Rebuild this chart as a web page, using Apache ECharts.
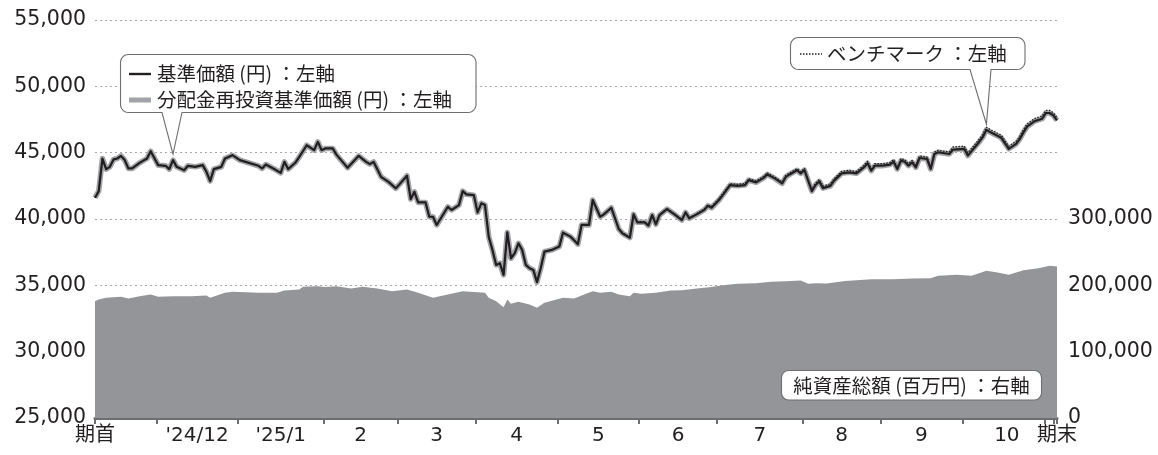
<!DOCTYPE html>
<html><head><meta charset="utf-8">
<script src="https://cdn.jsdelivr.net/npm/echarts@6/dist/echarts.min.js"></script>
<style>html,body{margin:0;padding:0;background:#fff}#main{width:1158px;height:455px}</style>
</head><body><div id="main"></div>
<script>
// x = trading-day index from 期首 (2024/11/07 = 0) to 期末 (= 259)
const tickDays = [0, 16.5, 38.5, 61.5, 81.5, 102.5, 124.5, 146.5, 167.5, 190.5, 211.5, 233.5, 255.6, 258, 259];
const labelDays = [0, 27.5, 50, 71.5, 92, 113.5, 135.5, 157, 179, 201, 222.5, 245.5, 259];
const labelTexts = ['期首', "'24/12", "'25/1", '2', '3', '4', '5', '6', '7', '8', '9', '10', '期末'];

// 基準価額 (円) [day, value]
const nav = [
[0,41600],[1,42100],[2,44560],[3,43760],[4,43930],[5,44490],[6,44560],[7,44760],[8,44440],[9,43810],
[10,43810],[12,44230],[14,44560],[15,45110],[17,44060],[19,44010],[20,43760],[21,44440],[22,43930],[24,43680],
[25,44010],[27,43930],[29,44060],[30,43560],[31,42860],[32,43760],[34,43930],[35,44560],[37,44810],[39,44440],
[44,44010],[45,43810],[46,44110],[48,43810],[50,43480],[51,44310],[52,43760],[54,44260],[55,44680],[57,45560],
[59,45190],[60,45810],[61,45190],[62,45320],[64,45320],[65,44850],[67,44190],[68,43860],[71,44760],[73,44310],
[74,44140],[75,44310],[77,43180],[79,42800],[81,42310],[84,43260],[85,41500],[86,42050],[87,41250],[89,41250],
[90,40170],[91,40170],[92,39550],[95,40920],[96,40680],[98,41050],[99,42100],[100,41860],[102,41800],[103,40500],
[104,41180],[105,41050],[106,38670],[107,37670],[108,36540],[109,36670],[110,35790],[111,38990],[112,37040],[113,37420],
[114,38170],[115,37670],[116,36540],[117,36290],[118,36160],[119,35240],[120,36290],[121,37540],[123,37670],[125,37920],
[126,38970],[128,38670],[129,38400],[130,38100],[131,39550],[133,39550],[134,41430],[136,40170],[137,40350],[139,40850],
[141,39250],[142,38920],[144,38590],[145,40350],[146,39750],[148,39750],[149,39500],[150,40300],[151,39600],[152,40300],
[154,40750],[156,40350],[158,39920],[159,40500],[160,40050],[162,40350],[164,40680],[165,41000],[166,40850],[168,41430],
[169,41800],[171,42560],[173,42500],[175,42560],[176,42930],[178,42760],[180,43100],[181,43360],[183,43060],[185,42680],
[186,43180],[187,43360],[189,43680],[190,43440],[191,43680],[193,42100],[194,42560],[195,42830],[196,42330],[198,42500],
[199,42890],[201,43440],[203,43520],[205,43440],[207,43890],[208,44200],[209,43640],[210,44020],[212,44020],[214,44100],
[215,44320],[216,43770],[217,44400],[218,44320],[219,44020],[220,44270],[221,43890],[222,44600],[224,44530],[225,43770],
[226,44900],[227,45030],[230,44900],[231,45230],[234,45290],[235,44780],[238,45790],[239,46170],[240,46720],[241,46550],
[244,46120],[246,45290],[248,45660],[249,46040],[250,46550],[251,46980],[253,47380],[255,47560],[256,47990],[257,47990],
[258,47810],[259,47430]
];

// 分配金再投資基準価額 (円): no distributions in the period, identical to 基準価額
const reinvest = nav;

// ベンチマーク [day, value]
const bench = [
[0,41600],[1,42100],[2,44560],[3,43760],[4,43930],[5,44490],[6,44560],[7,44760],[8,44440],[9,43810],
[10,43810],[12,44230],[14,44560],[15,45110],[17,44060],[19,44010],[20,43760],[21,44440],[22,43930],[24,43680],
[25,44010],[27,43930],[29,44060],[30,43560],[31,42860],[32,43760],[34,43930],[35,44560],[37,44810],[39,44440],
[44,44010],[45,43810],[46,44110],[48,43810],[50,43480],[51,44310],[52,43760],[54,44260],[55,44680],[57,45560],
[59,45190],[60,45810],[61,45190],[62,45320],[64,45320],[65,44850],[67,44190],[68,43860],[71,44760],[73,44310],
[74,44140],[75,44310],[77,43180],[79,42800],[81,42310],[84,43260],[85,41500],[86,42050],[87,41250],[89,41250],
[90,40170],[91,40170],[92,39550],[95,40920],[96,40680],[98,41050],[99,42100],[100,41860],[102,41800],[103,40500],
[104,41180],[105,41050],[106,38670],[107,37670],[108,36540],[109,36670],[110,35790],[111,38990],[112,37040],[113,37420],
[114,38170],[115,37670],[116,36540],[117,36290],[118,36160],[119,35240],[120,36290],[121,37540],[123,37670],[125,37920],
[126,38970],[128,38670],[129,38400],[130,38100],[131,39550],[133,39550],[134,41430],[136,40170],[137,40350],[139,40850],
[141,39300],[142,38970],[144,38640],[145,40400],[146,39800],[148,39800],[149,39550],[150,40350],[151,39650],[152,40350],
[154,40800],[156,40400],[158,39970],[159,40550],[160,40100],[162,40400],[164,40730],[165,41050],[166,40960],[168,41540],
[169,41910],[171,42670],[173,42610],[175,42670],[176,43040],[178,42870],[180,43210],[181,43470],[183,43170],[185,42790],
[186,43290],[187,43470],[189,43790],[190,43550],[191,43830],[193,42250],[194,42710],[195,42980],[196,42480],[198,42650],
[199,43040],[201,43590],[203,43670],[205,43590],[207,44040],[208,44350],[209,43790],[210,44170],[212,44170],[214,44250],
[215,44470],[216,43920],[217,44550],[218,44470],[219,44170],[220,44420],[221,44040],[222,44750],[224,44680],[225,43920],
[226,45050],[227,45180],[230,45050],[231,45430],[234,45490],[235,44980],[238,45990],[239,46370],[240,46920],[241,46750],
[244,46320],[246,45490],[248,45860],[249,46240],[250,46750],[251,47180],[253,47580],[255,47760],[256,48190],[257,48190],
[258,48010],[259,47630]
];

// 純資産総額 (百万円) [day, value]
const assets = [
[0,176000],[1,178700],[3,181300],[7,182800],[9,180200],[12,183700],[15,186200],[17,182800],[21,183700],[26,183700],
[30,184700],[31,181300],[35,188800],[37,190300],[44,188800],[49,188800],[51,192300],[55,193800],[56,197800],[60,198800],
[62,197300],[65,198800],[69,195300],[72,197800],[76,195300],[80,191200],[84,193800],[87,188800],[91,181300],[95,186200],
[99,191200],[105,188800],[106,181300],[108,176100],[110,167100],[111,178700],[112,172200],[114,175200],[117,171200],[119,166200],
[121,173700],[126,181300],[129,180200],[131,184700],[134,191200],[136,188800],[139,190300],[141,186200],[144,183700],[145,188800],
[147,187300],[151,188800],[155,192300],[158,192700],[162,195300],[166,197300],[169,200300],[173,202400],[178,203300],[182,205400],
[186,206300],[190,207400],[192,202500],[194,203000],[197,202700],[202,206600],[209,209200],[215,209200],[220,210200],[225,210700],
[227,214300],[232,215800],[236,214300],[240,221800],[243,219400],[246,215800],[250,222900],[254,225900],[257,229500],[259,228500]
];

const FONT = "'Noto Sans CJK JP','Noto Sans',sans-serif";
const NUMFONT = "'DejaVu Sans','Noto Sans CJK JP',sans-serif";
const TXT = '#231f20';
const fmt = v => v.toLocaleString('en-US');

const chart = echarts.init(document.getElementById('main'));
chart.setOption({
  animation: false,
  textStyle: {fontFamily: FONT},
  grid: {left: 95, right: 101, top: 20, bottom: 37},
  xAxis: {
    type: 'value', min: 0, max: 259,
    splitLine: {show: false},
    axisLine: {show: true, onZero: false, lineStyle: {color: '#6d6e71', width: 3}},
    axisTick: {show: true, customValues: tickDays, length: 6, lineStyle: {color: '#6d6e71', width: 2}},
    axisLabel: {show: true, customValues: labelDays, margin: 8, fontSize: 20, color: TXT, fontFamily: NUMFONT,
      formatter: v => { const i = labelDays.indexOf(v); return i >= 0 ? labelTexts[i] : ''; }}
  },
  yAxis: [{
    type: 'value', min: 25000, max: 55000, interval: 5000,
    axisLine: {show: false}, axisTick: {show: false},
    axisLabel: {fontSize: 20.5, color: TXT, margin: 9, fontFamily: NUMFONT, formatter: fmt},
    splitLine: {show: true, lineStyle: {color: '#a7a9ac', type: [2, 3], width: 1}}
  }, {
    type: 'value', min: 0, max: 600000, interval: 100000, position: 'right',
    axisLine: {show: false}, axisTick: {show: false}, splitLine: {show: false},
    axisLabel: {fontSize: 20.5, color: TXT, margin: 11, fontFamily: NUMFONT,
      formatter: v => v > 300000 ? '' : fmt(v)}
  }],
  series: [{
    name: '純資産総額', type: 'line', yAxisIndex: 1, data: assets, symbol: 'none',
    lineStyle: {width: 0}, areaStyle: {color: '#939598', opacity: 1}, z: 1
  }, {
    name: '分配金再投資基準価額', type: 'line', data: reinvest, symbol: 'none',
    lineStyle: {color: '#a2a4a7', width: 5.5, join: 'round'}, z: 2
  }, {
    name: '基準価額', type: 'line', data: nav, symbol: 'none',
    lineStyle: {color: '#231f20', width: 2.2, join: 'round'}, z: 3
  }, {
    name: 'ベンチマーク', type: 'line', data: bench, symbol: 'none',
    lineStyle: {color: '#231f20', width: 1.3, type: [1.5, 1.5]}, z: 4
  }]
});

function calloutPts(x1, y1, x2, y2, r, pointer) {
  const pts = [];
  const arc = (cx, cy, a0, a1) => {
    for (let i = 0; i <= 6; i++) {
      const a = (a0 + (a1 - a0) * i / 6) * Math.PI / 180;
      pts.push([cx + r * Math.cos(a), cy + r * Math.sin(a)]);
    }
  };
  arc(x2 - r, y1 + r, -90, 0);
  arc(x2 - r, y2 - r, 0, 90);
  if (pointer) {
    pts.push([pointer[1], y2], [pointer[2], pointer[3]], [pointer[0], y2]);
  }
  arc(x1 + r, y2 - r, 90, 180);
  arc(x1 + r, y1 + r, 180, 270);
  return pts;
}
const p1 = chart.convertToPixel({gridIndex: 0}, [21, 44440]);
const p2 = chart.convertToPixel({gridIndex: 0}, [240, 46920]);
const boxStyle = {fill: '#fff', stroke: '#6d6e71', lineWidth: 1.1};
const tStyle = (x, y, text, align) => ({type: 'text', z: 110, style: {x, y, text, fill: TXT, font: `19.5px ${FONT}`, align: align || 'left', verticalAlign: 'middle'}});

chart.setOption({
  graphic: [
    {type: 'polygon', z: 100, shape: {points: calloutPts(120.5, 54.5, 476, 112.5, 8, [162, 182, p1[0], p1[1] - 6])}, style: boxStyle},
    {type: 'line', z: 110, shape: {x1: 129, y1: 74, x2: 151, y2: 74}, style: {stroke: '#231f20', lineWidth: 2.4}},
    {type: 'line', z: 110, shape: {x1: 129, y1: 100, x2: 151, y2: 100}, style: {stroke: '#a2a4a7', lineWidth: 5}},
    tStyle(157, 74, '基準価額 (円) ：左軸'),
    tStyle(157, 100, '分配金再投資基準価額 (円) ：左軸'),
    {type: 'polygon', z: 100, shape: {points: calloutPts(790.5, 37.5, 1025, 69.5, 8, [970, 991, p2[0], p2[1] - 3])}, style: boxStyle},
    {type: 'line', z: 110, shape: {x1: 800, y1: 54, x2: 822, y2: 54}, style: {stroke: '#231f20', lineWidth: 1.5, lineDash: [1.5, 1.5]}},
    tStyle(827, 54, 'ベンチマーク ：左軸'),
    {type: 'rect', z: 100, shape: {x: 781.5, y: 370.5, width: 260, height: 29.5, r: 7}, style: boxStyle},
    tStyle(911.5, 385.5, '純資産総額 (百万円) ：右軸', 'center')
  ]
});
</script></body></html>
